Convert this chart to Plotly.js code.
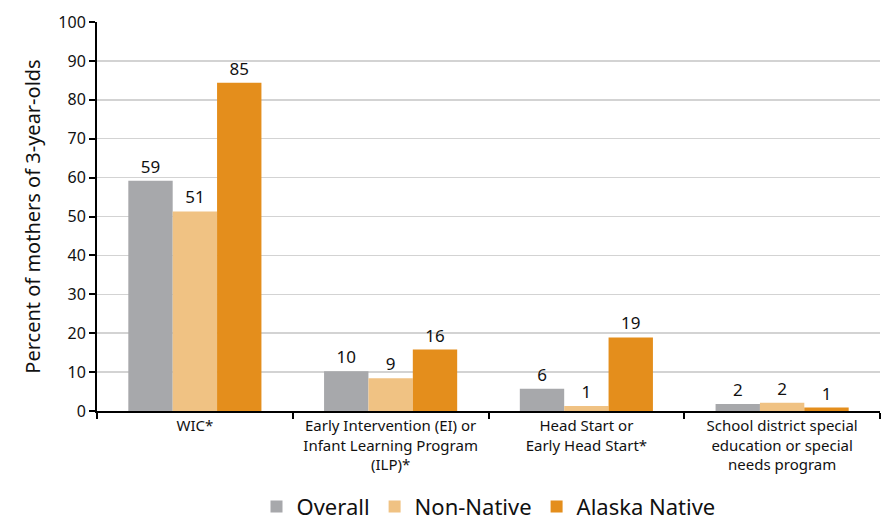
<!DOCTYPE html>
<html>
<head>
<meta charset="utf-8">
<script src="https://cdn.plot.ly/plotly-3.0.1.min.js"></script>
<style>html,body{margin:0;padding:0;background:#fff;}#chart{width:889px;height:521px;}</style>
</head>
<body>
<div id="chart"></div>
<script>
const categories = [
  "WIC*",
  "Early Intervention (EI) or<br>Infant Learning Program<br>(ILP)*",
  "Head Start or<br>Early Head Start*",
  "School district special<br>education or special<br>needs program"
];
const overall = [59.2, 10.2, 5.7, 1.8];
const nonNative = [51.3, 8.4, 1.3, 2.1];
const alaskaNative = [84.4, 15.8, 18.9, 0.9];
const overallLabels = ["59", "10", "6", "2"];
const nonNativeLabels = ["51", "9", "1", "2"];
const alaskaNativeLabels = ["85", "16", "19", "1"];

const font = "Noto Sans, Open Sans, sans-serif";
function series(name, y, labels, color) {
  return {
    type: "bar", name: name, x: categories, y: y,
    text: labels, textposition: "outside", texttemplate: "%{text}",
    textfont: {family: font, size: 17, color: "#111"},
    marker: {color: color}, cliponaxis: false, hoverinfo: "none"
  };
}
const data = [
  series("Overall", overall, overallLabels, "#a7a8ab"),
  series("Non-Native", nonNative, nonNativeLabels, "#f0c283"),
  series("Alaska Native", alaskaNative, alaskaNativeLabels, "#e48e1c")
];
const layout = {
  width: 889, height: 521,
  margin: {l: 97, r: 9, t: 22, b: 110, autoexpand: false},
  paper_bgcolor: "#fff", plot_bgcolor: "#fff",
  barmode: "group", bargap: 0.32, bargroupgap: 0,
  font: {family: font, color: "#111"},
  xaxis: {
    showline: true, linecolor: "#000", linewidth: 2,
    ticks: "outside", tickson: "boundaries", ticklen: 6, tickwidth: 2, tickcolor: "#000",
    tickfont: {family: font, size: 15, color: "#111"}, showgrid: false, automargin: false
  },
  yaxis: {
    range: [0, 100], dtick: 10, showline: true, linecolor: "#000", linewidth: 2,
    ticks: "outside", ticklen: 6, tickwidth: 2, tickcolor: "#000",
    tickfont: {family: font, size: 16, color: "#111"}, automargin: false,
    gridcolor: "#d3d3d3", gridwidth: 1.5, zeroline: false,
    title: {text: "Percent of mothers of 3-year-olds", font: {family: font, size: 20, color: "#111"}, standoff: 12}
  },
  legend: {
    orientation: "h", x: 0.5, xanchor: "center", y: -0.3, yanchor: "bottom",
    font: {family: font, size: 22, color: "#111"}, itemwidth: 30, traceorder: "normal"
  },
  showlegend: true
};
Plotly.newPlot("chart", data, layout, {displayModeBar: false, staticPlot: true});
</script>
</body>
</html>
